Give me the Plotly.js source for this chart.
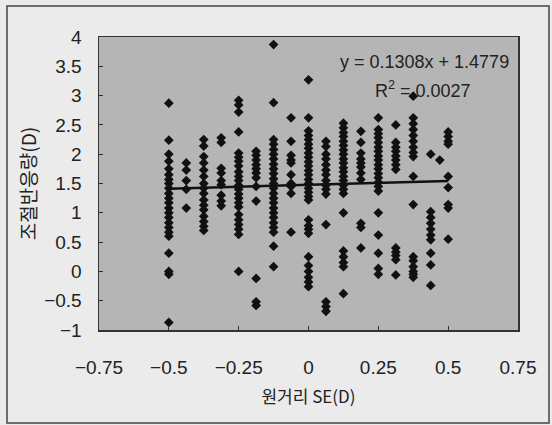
<!DOCTYPE html>
<html>
<head>
<meta charset="utf-8">
<script src="https://cdn.plot.ly/plotly-3.0.1.min.js"></script>
<style>
html,body{margin:0;padding:0;background:#ebebeb;}
#chart{width:552px;height:425px;}
</style>
</head>
<body>
<div id="chart"></div>
<script>
// Far-distance SE (D) columns and accommodative response values (D)
const se_m0500 = [2.87, 2.24, 2.0, 1.88, 1.75, 1.65, 1.57, 1.5, 1.42, 1.33, 1.25, 1.17, 1.08, 1.0, 0.92, 0.83, 0.75, 0.67, 0.6, 0.31, 0.0, -0.05, -0.87];
const se_m0438 = [1.85, 1.73, 1.55, 1.4, 1.08];
const se_m0375 = [2.25, 2.14, 1.96, 1.85, 1.73, 1.62, 1.5, 1.42, 1.33, 1.22, 1.13, 1.05, 0.94, 0.85, 0.77, 0.7];
const se_m0313 = [2.28, 2.2, 1.76, 1.68, 1.55, 1.48, 1.3, 1.2, 1.12];
const se_m0250 = [2.92, 2.84, 2.72, 2.38, 2.02, 1.95, 1.88, 1.8, 1.7, 1.62, 1.55, 1.47, 1.4, 1.32, 1.25, 1.17, 1.1, 0.97, 0.88, 0.8, 0.72, 0.63, 0.0];
const se_m0188 = [2.05, 1.98, 1.9, 1.82, 1.75, 1.68, 1.6, 1.45, 1.2, -0.12, -0.52, -0.58];
const se_m0125 = [3.87, 2.88, 2.25, 2.17, 2.08, 2.0, 1.92, 1.83, 1.75, 1.67, 1.58, 1.5, 1.42, 1.33, 1.25, 1.17, 1.08, 1.0, 0.92, 0.83, 0.75, 0.67, 0.43, 0.08];
const se_m0063 = [2.62, 2.22, 1.98, 1.9, 1.85, 1.65, 1.5, 1.45, 1.33, 0.67];
const se_p0000 = [3.27, 2.62, 2.4, 2.32, 2.25, 2.17, 2.1, 2.02, 1.95, 1.87, 1.8, 1.72, 1.65, 1.57, 1.5, 1.42, 1.35, 1.28, 1.22, 0.88, 0.78, 0.72, 0.65, 0.25, 0.1, 0.0, -0.1, -0.18, -0.26];
const se_p0063 = [2.22, 2.13, 2.0, 1.92, 1.82, 1.73, 1.65, 1.55, 1.47, 1.4, 1.32, 0.8, -0.52, -0.6, -0.68];
const se_p0125 = [2.53, 2.45, 2.37, 2.3, 2.22, 2.15, 2.07, 2.0, 1.92, 1.85, 1.77, 1.7, 1.62, 1.55, 1.47, 1.4, 1.33, 1.0, 0.35, 0.25, 0.15, 0.08, -0.38];
const se_p0188 = [2.39, 2.2, 2.02, 1.92, 1.85, 1.78, 1.68, 1.57, 0.82, 0.75, 0.4];
const se_p0250 = [2.62, 2.42, 2.35, 2.28, 2.2, 2.12, 2.05, 1.97, 1.9, 1.82, 1.75, 1.67, 1.6, 1.52, 1.45, 1.37, 1.0, 0.62, 0.31, 0.05, -0.05];
const se_p0313 = [2.5, 2.2, 2.12, 2.05, 1.97, 1.9, 1.82, 1.74, 0.4, 0.33, 0.27, 0.2, -0.06];
const se_p0375 = [2.99, 2.62, 2.52, 2.42, 2.32, 2.22, 2.12, 2.03, 1.96, 1.62, 1.14, 0.25, 0.18, 0.08, 0.0, -0.05, -0.1];
const se_p0438 = [2.0, 1.02, 0.92, 0.82, 0.72, 0.62, 0.54, 0.31, 0.11, -0.24];
const se_p0470 = [1.9];
const se_p0500 = [2.38, 2.3, 2.22, 2.17, 1.62, 1.43, 1.14, 1.08, 0.55];

const columnX = [-0.5, -0.4375, -0.375, -0.3125, -0.25, -0.1875, -0.125, -0.0625, 0, 0.0625, 0.125, 0.1875, 0.25, 0.3125, 0.375, 0.4375, 0.47, 0.5];
const columnY = [se_m0500, se_m0438, se_m0375, se_m0313, se_m0250, se_m0188, se_m0125, se_m0063, se_p0000, se_p0063, se_p0125, se_p0188, se_p0250, se_p0313, se_p0375, se_p0438, se_p0470, se_p0500];

// Linear trend line
const slope = 0.1308;
const intercept = 1.4779;
const trendX = [-0.5, 0.5];
const equationText = 'y = 0.1308x + 1.4779';
const r2Text = 'R<sup>2</sup> = 0.0027';

const xTicks = [-0.75, -0.5, -0.25, 0, 0.25, 0.5, 0.75];
const xTickText = ['\u22120.75', '\u22120.5', '\u22120.25', '0', '0.25', '0.5', '0.75'];
const yTicks = [-1, -0.5, 0, 0.5, 1, 1.5, 2, 2.5, 3, 3.5, 4];
const yTickText = ['\u22121', '\u22120.5', '0', '0.5', '1', '1.5', '2', '2.5', '3', '3.5', '4'];

const px = [], py = [];
columnX.forEach((x, i) => columnY[i].forEach(y => { px.push(x); py.push(y); }));

const traces = [
  {
    type: 'scatter', mode: 'markers', x: px, y: py,
    marker: {symbol: 'diamond', size: 7.5, color: '#111111', line: {width: 0}},
    hoverinfo: 'skip', showlegend: false
  },
  {
    type: 'scatter', mode: 'lines', x: trendX, y: trendX.map(x => slope * x + intercept),
    line: {color: '#111111', width: 2.5}, hoverinfo: 'skip', showlegend: false
  }
];

const fam = 'Liberation Sans, Arial, sans-serif';
const krFam = 'Noto Sans CJK KR, sans-serif';

const layout = {
  width: 552, height: 425,
  margin: {l: 99, r: 34, t: 37, b: 95},
  paper_bgcolor: '#ebebeb',
  plot_bgcolor: '#b5b5b5',
  font: {family: fam, color: '#222'},
  showlegend: false,
  xaxis: {
    range: [-0.75, 0.75], tickvals: xTicks, ticktext: xTickText,
    ticks: 'inside', ticklen: 4, tickcolor: '#333', tickwidth: 1,
    showgrid: false, zeroline: false,
    showline: true, linecolor: '#333', linewidth: 1.5, mirror: true,
    tickfont: {size: 19, family: fam, color: '#222'},
    ticklabelstandoff: 20,
    title: {text: '원거리 SE(D)', font: {size: 17, family: krFam, color: '#222'}, standoff: 14}
  },
  yaxis: {
    range: [-1, 4], tickvals: yTicks, ticktext: yTickText,
    ticks: 'inside', ticklen: 4, tickcolor: '#333', tickwidth: 1,
    showgrid: false, zeroline: false,
    showline: true, linecolor: '#333', linewidth: 1.5, mirror: true,
    tickfont: {size: 19, family: fam, color: '#222'},
    ticklabelstandoff: 12,
    title: {text: '조절반응량(D)', font: {size: 19, family: krFam, color: '#222'}, standoff: 2}
  },
  annotations: [
    {xref: 'x', yref: 'y', x: 0.725, y: 3.58, xanchor: 'right', yanchor: 'middle', text: equationText, showarrow: false, font: {size: 18, family: fam, color: '#222'}},
    {xref: 'x', yref: 'y', x: 0.59, y: 3.10, xanchor: 'right', yanchor: 'middle', text: r2Text, showarrow: false, font: {size: 18, family: fam, color: '#222'}}
  ],
  shapes: [
    {type: 'rect', xref: 'paper', yref: 'paper', x0: -0.2196, x1: 1.074, y0: -0.317, y1: 1.106, line: {color: '#444', width: 1.5}, fillcolor: 'rgba(0,0,0,0)', layer: 'below'}
  ]
};

Plotly.newPlot('chart', traces, layout, {staticPlot: true, displayModeBar: false});
</script>
</body>
</html>
